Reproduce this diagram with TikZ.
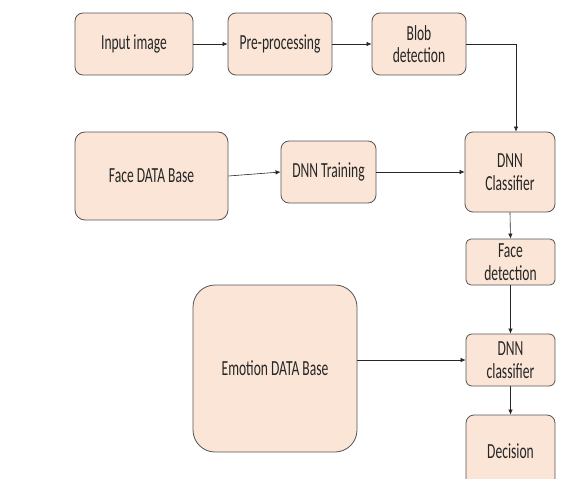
\documentclass[tikz,border=0pt]{standalone}
\usepackage{fontspec}
\setmainfont{Carlito}[FakeStretch=0.63]
\usetikzlibrary{arrows.meta}
\definecolor{boxfill}{HTML}{FBE5D6}
\definecolor{boxline}{HTML}{555555}
\definecolor{txt}{HTML}{262626}
\tikzset{
  stage/.style={draw=boxline, fill=boxfill, line width=0.8pt, rounded corners=8pt,
    align=center, inner sep=0pt, text=txt,
    font=\fontsize{21.5}{22.5}\selectfont},
  flow/.style={draw=black!85, line width=0.6pt, -{Latex[length=5pt,width=4.5pt]}}
}
\begin{document}
\begin{tikzpicture}[x=1pt, y=-1pt]
\useasboundingbox (0,0) rectangle (579,479);
\clip (0,0) rectangle (579,479);

% top row
\node[stage, minimum width=118pt, minimum height=62pt] (inp) at (134,44) {Input image};
\node[stage, minimum width=104pt, minimum height=62pt] (pre) at (280,44) {Pre-processing};
\node[stage, minimum width=94pt, minimum height=62pt] (blob) at (419,44) {Blob\\detection};

% training row
\node[stage, minimum width=153pt, minimum height=88pt, rounded corners=10pt] (fdb) at (151.5,176) {Face DATA Base};
\node[stage, minimum width=95pt, minimum height=62pt] (train) at (328.5,172) {DNN Training};
\node[stage, minimum width=90pt, minimum height=80pt] (cls) at (510,172) {DNN\\Classifier};

% right column
\node[stage, minimum width=89pt, minimum height=46pt, rounded corners=5pt] (fdet) at (510.5,262) {Face\\detection};
\node[stage, minimum width=89pt, minimum height=52pt, rounded corners=6pt] (ecls) at (510.5,360) {DNN\\classifier};
\node[stage, minimum width=89pt, minimum height=72pt] (dec) at (510.5,451) {Decision};

% emotion data base
\node[stage, minimum width=164pt, minimum height=167pt, rounded corners=22pt] (edb) at (275,368.5) {Emotion DATA Base};

% connectors
\draw[flow] (inp) -- (pre);
\draw[flow] (pre) -- (blob);
\draw[flow] (blob.east) -| ([xshift=6pt]cls.north);
\draw[flow] (fdb.east) -- (train.west);
\draw[flow] (train) -- (cls);
\draw[flow] (cls.south) -- (fdet.north);
\draw[flow] (fdet.south) -- (ecls.north);
\draw[flow] (edb.east |- ecls.west) -- (ecls.west);
\draw[flow] (ecls.south) -- (dec.north);
\end{tikzpicture}
\end{document}
